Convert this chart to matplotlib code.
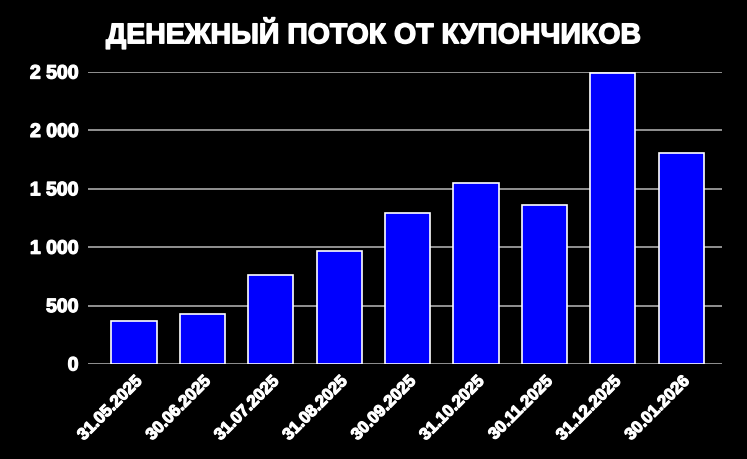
import numpy as np
import matplotlib.pyplot as plt
import matplotlib.patheffects as pe
from matplotlib.ticker import FuncFormatter

dates  = ['31.05.2025', '30.06.2025', '31.07.2025', '31.08.2025', '30.09.2025',
          '31.10.2025', '30.11.2025', '31.12.2025', '30.01.2026']
values = [368, 428, 762, 967, 1293, 1550, 1361, 2491, 1806]
title  = 'ДЕНЕЖНЫЙ ПОТОК ОТ КУПОНЧИКОВ'

plt.rcParams['font.family'] = ['Liberation Sans', 'DejaVu Sans']
plt.rcParams['font.weight'] = 'bold'

fig = plt.figure(figsize=(7.47, 4.59), dpi=100, facecolor='black')
ax = fig.add_axes([0.118, 0.207, 0.849, 0.636], facecolor='black')

x = np.arange(len(dates))
ax.bar(x, values, width=0.66, color='#0000ff', edgecolor='white', linewidth=1.2, zorder=3)

ax.set_ylim(0, 2500)
ax.set_xlim(-0.67, len(dates) - 0.4)
ax.set_yticks(np.arange(0, 2501, 500))
ax.yaxis.set_major_formatter(FuncFormatter(lambda v, p: f'{int(v):,}'.replace(',', ' ')))
ax.grid(axis='y', color='#aaaaaa', linewidth=1.2, zorder=0)

ax.set_xticks(x)
ax.set_xticklabels(dates, rotation=45, ha='right', rotation_mode='anchor')
ax.tick_params(axis='x', length=0, pad=7, colors='white', labelsize=12)
ax.tick_params(axis='y', length=0, pad=7, colors='white', labelsize=14)
heavy = [pe.withStroke(linewidth=0.9, foreground='white')]
for lab in ax.get_xticklabels() + ax.get_yticklabels():
    lab.set_fontweight('bold')
    lab.set_path_effects(heavy)

for s in ax.spines.values():
    s.set_visible(False)

fig.text(0.500, 0.927, title, color='white', fontsize=20.5, fontweight='bold',
         ha='center', va='center', path_effects=[pe.withStroke(linewidth=1.0, foreground='white')])

fig.savefig('out.png', dpi=100, facecolor='black')
